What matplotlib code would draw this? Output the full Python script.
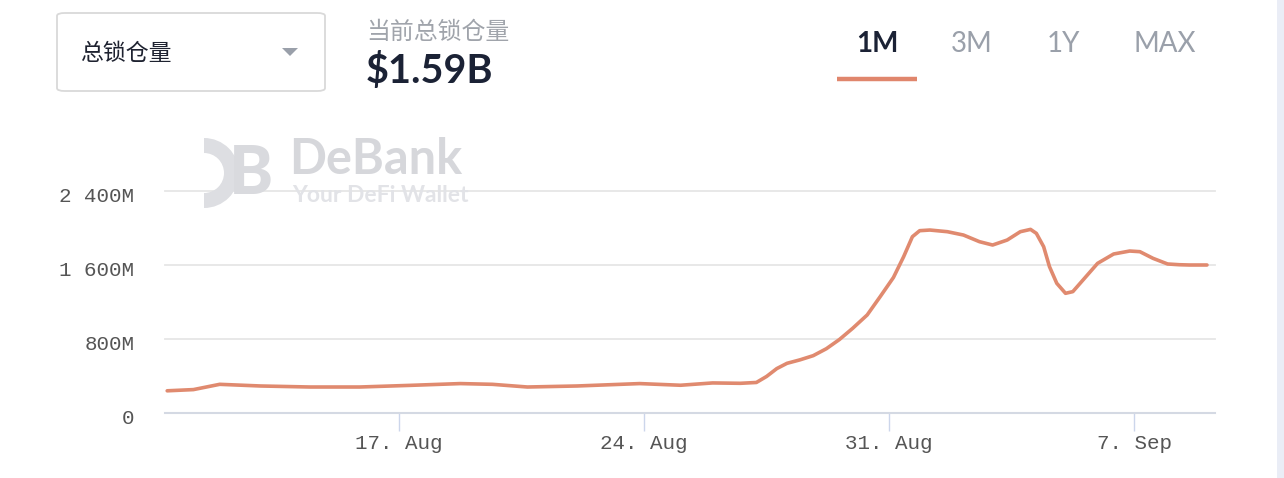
import pandas as pd
import matplotlib
matplotlib.use('Agg')
import matplotlib.pyplot as plt
import matplotlib.transforms as mtransforms
from matplotlib.patches import FancyBboxPatch, Rectangle, Polygon, Wedge

# TVL readings (million USD) taken off the chart
times = ['2021-08-10 09:00', '2021-08-11 03:00', '2021-08-11 21:00', '2021-08-13 01:00',
         '2021-08-14 11:00', '2021-08-15 21:00', '2021-08-17 08:00', '2021-08-18 18:00',
         '2021-08-19 16:00', '2021-08-20 16:00', '2021-08-22 02:00', '2021-08-23 21:00',
         '2021-08-25 01:00', '2021-08-25 23:00', '2021-08-26 18:00', '2021-08-27 05:00',
         '2021-08-27 12:00', '2021-08-27 19:00', '2021-08-28 02:00', '2021-08-28 11:00',
         '2021-08-28 20:00', '2021-08-29 05:00', '2021-08-29 14:00', '2021-08-29 23:00',
         '2021-08-30 09:00', '2021-08-30 18:00', '2021-08-31 03:00', '2021-08-31 10:00',
         '2021-08-31 16:00', '2021-08-31 21:00', '2021-09-01 04:00', '2021-09-01 16:00',
         '2021-09-02 03:00', '2021-09-02 14:00', '2021-09-02 23:00', '2021-09-03 09:00',
         '2021-09-03 18:00', '2021-09-04 01:00', '2021-09-04 05:00', '2021-09-04 10:00',
         '2021-09-04 14:00', '2021-09-04 19:00', '2021-09-05 01:00', '2021-09-05 06:00',
         '2021-09-05 13:00', '2021-09-05 23:00', '2021-09-06 10:00', '2021-09-06 21:00',
         '2021-09-07 04:00', '2021-09-07 13:00', '2021-09-07 23:00', '2021-09-08 07:00',
         '2021-09-08 14:00', '2021-09-09 02:00']
tvl = [240, 253, 310, 292, 281, 281, 299, 318,
       310, 281, 292, 318, 300, 325, 321, 330,
       395, 480, 537, 575, 620, 695, 795, 915,
       1060, 1260, 1465, 1690, 1906, 1971, 1978, 1960,
       1924, 1852, 1816, 1870, 1960, 1985, 1942, 1798,
       1582, 1402, 1294, 1312, 1438, 1618, 1719, 1751,
       1744, 1672, 1611, 1603, 1600, 1600]

tick_dates = ['2021-08-17', '2021-08-24', '2021-08-31', '2021-09-07']
tick_labels = ['17. Aug', '24. Aug', '31. Aug', '7. Sep']
y_ticks = [0, 800, 1600, 2400]
y_labels = ['0', '800M', '1 600M', '2 400M']
ranges = ['1M', '3M', '1Y', 'MAX']

W, H = 1284, 478
fx = lambda p: p / W
fy = lambda p: 1 - p / H

fig = plt.figure(figsize=(W / 100, H / 100), dpi=100)
fig.patch.set_facecolor('white')

# right edge strip
fig.patches.append(Rectangle((fx(1277), 0), fx(7), 1, transform=fig.transFigure,
                             facecolor='#eaedf6', edgecolor='none', zorder=0))

ax = fig.add_axes([fx(165), 65 / H, fx(1050), 222 / H])
ax.set_facecolor('none')

# watermark logo + text (logo drawn in inches so the arc stays round)
fig.patches.append(Wedge((2.04, (H - 173) / 100), 0.35, 270, 90, width=0.15,
                         transform=fig.dpi_scale_trans, facecolor='#dddee2',
                         edgecolor='none', zorder=0))
fig.text(fx(229), fy(175), 'B', fontsize=48, fontweight='black', family='Lato',
         color='#d9dade', ha='left', va='center', zorder=0)
fig.text(fx(289), fy(160), 'DeBank', fontsize=35, fontweight='bold', family='Lato',
         color='#d6d7db', ha='left', va='center', zorder=0)
fig.text(fx(292), fy(195), 'Your DeFi Wallet', fontsize=16.5, fontweight='bold', family='Lato',
         color='#e2e3e7', ha='left', va='center', zorder=0)

x = pd.to_datetime(times)
ax.plot(x, tvl, color='#e08a6f', lw=2.6, solid_joinstyle='round', solid_capstyle='round', zorder=3)

ax.set_ylim(0, 2400)
ax.set_xlim(pd.Timestamp('2021-08-10 07:30'), pd.Timestamp('2021-09-09 07:30'))
for v in y_ticks[1:]:
    ax.axhline(v, color='#e6e6e6', lw=1.3, zorder=1, clip_on=False)
ax.axhline(0, color='#d4d9e3', lw=1.5, zorder=2, clip_on=False)

for s in ax.spines.values():
    s.set_visible(False)
ax.set_yticks(y_ticks)
ax.set_yticklabels(y_labels)
ax.set_xticks(pd.to_datetime(tick_dates))
ax.set_xticklabels(tick_labels)
ax.tick_params(axis='y', length=0, pad=22, labelsize=15, labelcolor='#555555')
ax.tick_params(axis='x', length=13, width=1, color='#ccd6eb', pad=2,
               labelsize=15, labelcolor='#555555')
shift = mtransforms.ScaledTranslation(0, -4 / 100, fig.dpi_scale_trans)
for lab in ax.get_yticklabels():
    lab.set_transform(lab.get_transform() + shift)
for lab in ax.get_xticklabels() + ax.get_yticklabels():
    lab.set_family('Liberation Mono')

# header: dropdown
fig.patches.append(FancyBboxPatch((fx(57), fy(91)), fx(268), 78 / H,
                                  boxstyle='round,pad=0,rounding_size=0.006',
                                  transform=fig.transFigure, facecolor='white',
                                  edgecolor='#d9d9d9', lw=1.3))
fig.text(fx(80), fy(53), '总锁仓量', fontsize=16.5, family='Noto Sans CJK SC',
         color='#1e2230', ha='left', va='center')
fig.patches.append(Polygon([(fx(282), fy(48)), (fx(298), fy(48)), (fx(290), fy(56))],
                           closed=True, transform=fig.transFigure,
                           facecolor='#9aa0aa', edgecolor='none'))

fig.text(fx(366), fy(32), '当前总锁仓量', fontsize=17.2, family='Noto Sans CJK SC',
         color='#a0a4ab', ha='left', va='center')
fig.text(fx(366), fy(71), '$1.59B', fontsize=28.5, fontweight='bold', family='Lato',
         color='#1b2235', ha='left', va='center')

# range buttons
btn_x = [877, 972, 1063, 1165]
for lbl, bx in zip(ranges, btn_x):
    active = lbl == '1M'
    fig.text(fx(bx), fy(44), lbl, fontsize=20, family='Lato',
             fontweight='bold' if active else 'normal',
             color='#1b2235' if active else '#9aa0aa', ha='center', va='center')
fig.add_artist(plt.Line2D([fx(837), fx(917)], [fy(79), fy(79)], transform=fig.transFigure,
                          color='#e0866c', lw=3.2, solid_capstyle='butt'))

plt.savefig('out.png', dpi=100)
